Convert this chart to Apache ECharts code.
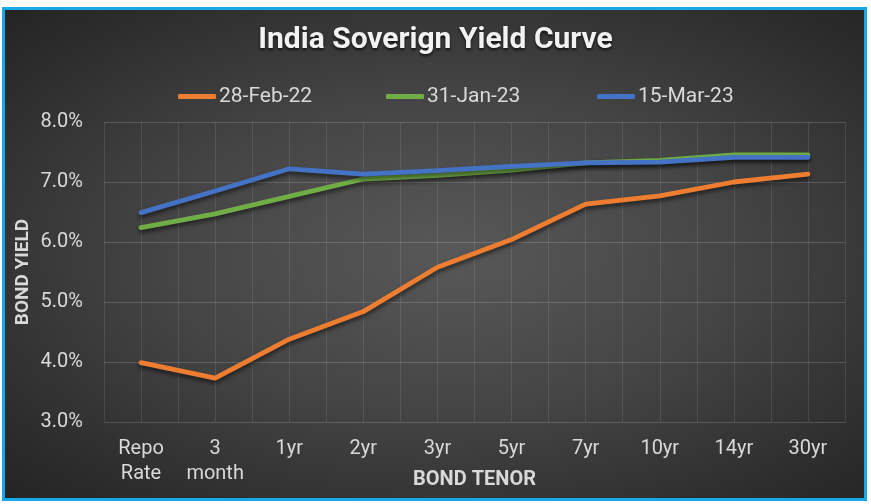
<!DOCTYPE html>
<html>
<head>
<meta charset="utf-8">
<script src="https://cdn.jsdelivr.net/npm/echarts@6/dist/echarts.min.js"></script>
<style>
  html, body { margin: 0; padding: 0; background: #fff; }
  .frame {
    position: absolute; left: 2px; top: 7px; width: 859px; height: 488px;
    border: 3px solid #17a9e6;
    background: radial-gradient(ellipse at 52% 50%, #585858 0%, #454545 45%, #2c2c2c 85%, #242424 100%);
  }
  #chart { position: absolute; left: 0; top: 0; width: 871px; height: 504px; }
</style>
</head>
<body>
<div class="frame"></div>
<div id="chart"></div>
<script>
// tenors on the x axis
var tenors = ['Repo\nRate', '3\nmonth', '1yr', '2yr', '3yr', '5yr', '7yr', '10yr', '14yr', '30yr'];
// yields in %
var feb22 = [3.99, 3.73, 4.38, 4.84, 5.58, 6.04, 6.63, 6.77, 7.00, 7.13];
var jan23 = [6.24, 6.47, 6.76, 7.05, 7.11, 7.20, 7.32, 7.36, 7.45, 7.45];
var mar23 = [6.49, 6.85, 7.22, 7.13, 7.19, 7.26, 7.32, 7.33, 7.41, 7.41];
var names = ['28-Feb-22', '31-Jan-23', '15-Mar-23'];

var myChart = echarts.init(document.getElementById('chart'));
var txt = '#d9d9d9';
var grid = 'rgba(255,255,255,0.16)';

function line(name, data, color) {
  return {
    name: name,
    type: 'line',
    data: data,
    symbol: 'none',
    xAxisIndex: 0,
    lineStyle: {
      width: 4.8,
      color: color,
      cap: 'round',
      join: 'round',
      shadowColor: 'rgba(0,0,0,0.55)',
      shadowBlur: 4,
      shadowOffsetY: 3
    },
    itemStyle: { color: color }
  };
}

// one legend per entry so they sit where the original puts them
var legendLeft = [178, 386, 597];
var legends = names.map(function (n, i) {
  return {
    left: legendLeft[i],
    top: 86,
    padding: 0,
    icon: 'roundRect',
    itemWidth: 38,
    itemHeight: 5,
    textStyle: { color: txt, fontFamily: 'Roboto', fontSize: 21, padding: [0, 0, 0, -2] },
    data: [n]
  };
});

var option = {
  animation: false,
  title: {
    text: 'India Soverign Yield Curve',
    left: 'center',
    top: 20,
    textStyle: {
      color: '#f2f2f2',
      fontFamily: 'Roboto',
      fontWeight: 'bold',
      fontSize: 30,
      textShadowColor: 'rgba(0,0,0,0.7)',
      textShadowBlur: 3,
      textShadowOffsetY: 2
    }
  },
  legend: legends,
  grid: { left: 104, right: 26, top: 122, bottom: 82, outerBoundsMode: 'none' },
  xAxis: [{
    type: 'category',
    data: tenors,
    boundaryGap: true,
    axisLine: { show: false },
    axisTick: { show: false },
    axisLabel: { interval: 0, color: txt, fontFamily: 'Roboto', fontSize: 20, lineHeight: 25, margin: 14 },
    splitLine: { show: false },
    name: 'BOND TENOR',
    nameLocation: 'middle',
    nameGap: 48,
    nameMoveOverlap: false,
    nameTextStyle: { color: txt, fontFamily: 'Roboto', fontWeight: 'bold', fontSize: 20 }
  }, {
    // half-category grid lines
    type: 'value',
    min: 0,
    max: 20,
    interval: 1,
    axisLine: { show: false },
    axisTick: { show: false },
    axisLabel: { show: false },
    splitLine: { show: true, lineStyle: { color: 'rgba(255,255,255,0.1)', width: 1 } }
  }],
  yAxis: {
    type: 'value',
    min: 3,
    max: 8,
    interval: 1,
    axisLine: { show: false },
    axisTick: { show: false },
    axisLabel: {
      color: txt, fontFamily: 'Roboto', fontSize: 20, margin: 21,
      formatter: function (v) { return v.toFixed(1) + '%'; }
    },
    splitLine: { lineStyle: { color: grid, width: 1 } },
    name: 'BOND YIELD',
    nameLocation: 'middle',
    nameRotate: 90,
    nameGap: 71,
    nameMoveOverlap: false,
    nameTextStyle: { color: txt, fontFamily: 'Roboto', fontWeight: 'bold', fontSize: 19 }
  },
  series: [
    line(names[0], feb22, '#ed7d31'),
    line(names[1], jan23, '#70ad47'),
    line(names[2], mar23, '#4472c4')
  ]
};

myChart.setOption(option);
</script>
</body>
</html>
